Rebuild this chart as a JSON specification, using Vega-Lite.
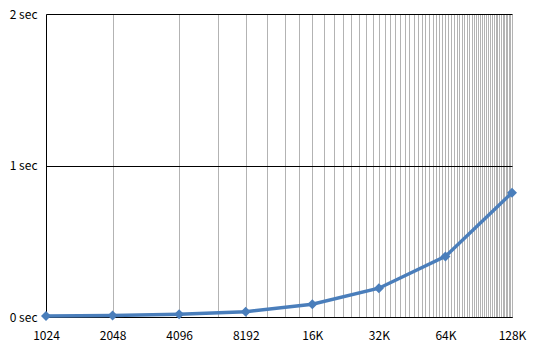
{
  "$schema": "https://vega.github.io/schema/vega-lite/v6.json",
  "width": 466,
  "height": 303,
  "autosize": "none",
  "padding": {"left": 46, "top": 14, "right": 33, "bottom": 41},
  "background": "white",
  "config": {
    "view": {"stroke": null},
    "axis": {"labelFont": "Noto Sans CJK JP", "labelFontSize": 12, "labelColor": "black", "title": null}
  },
  "data": {
    "values": [
      {"n": 1024, "t": 0.007},
      {"n": 2048, "t": 0.010},
      {"n": 4096, "t": 0.018},
      {"n": 8192, "t": 0.035},
      {"n": 16384, "t": 0.084},
      {"n": 32768, "t": 0.19},
      {"n": 65536, "t": 0.40},
      {"n": 131072, "t": 0.82}
    ]
  },
  "encoding": {
    "x": {
      "field": "n",
      "type": "quantitative",
      "scale": {"type": "log", "base": 2, "domain": [1024, 131072], "nice": false},
      "axis": {
        "values": [1024, 2048, 4096, 6144, 8192, 10240, 12288, 14336, 16384, 18432, 20480, 22528, 24576, 26624, 28672, 30720, 32768, 34816, 36864, 38912, 40960, 43008, 45056, 47104, 49152, 51200, 53248, 55296, 57344, 59392, 61440, 63488, 65536, 67584, 69632, 71680, 73728, 75776, 77824, 79872, 81920, 83968, 86016, 88064, 90112, 92160, 94208, 96256, 98304, 100352, 102400, 104448, 106496, 108544, 110592, 112640, 114688, 116736, 118784, 120832, 122880, 124928, 126976, 129024, 131072],
        "grid": true,
        "gridColor": "#b3b3b3",
        "gridOpacity": 1,
        "gridWidth": 1,
        "ticks": false,
        "domain": true,
        "domainColor": "black",
        "domainWidth": 1,
        "labelOverlap": false,
        "labelFlush": false,
        "labelPadding": 13,
        "labelExpr": "(datum.value==1024||datum.value==2048||datum.value==4096||datum.value==8192) ? ''+datum.value : (datum.value==16384||datum.value==32768||datum.value==65536||datum.value==131072) ? (datum.value/1024)+'K' : ''"
      }
    },
    "y": {
      "field": "t",
      "type": "quantitative",
      "scale": {"domain": [0, 2], "nice": false},
      "axis": {
        "values": [0, 1, 2],
        "grid": true,
        "gridColor": "black",
        "gridOpacity": 1,
        "gridWidth": 1,
        "ticks": false,
        "domain": true,
        "domainColor": "black",
        "labelPadding": 9,
        "labelExpr": "datum.value + ' sec'"
      }
    }
  },
  "layer": [
    {"mark": {"type": "line", "color": "#4a7ebb", "strokeWidth": 3.5}},
    {"mark": {"type": "point", "shape": "diamond", "filled": true, "size": 100, "color": "#4a7ebb", "opacity": 1}}
  ]
}
